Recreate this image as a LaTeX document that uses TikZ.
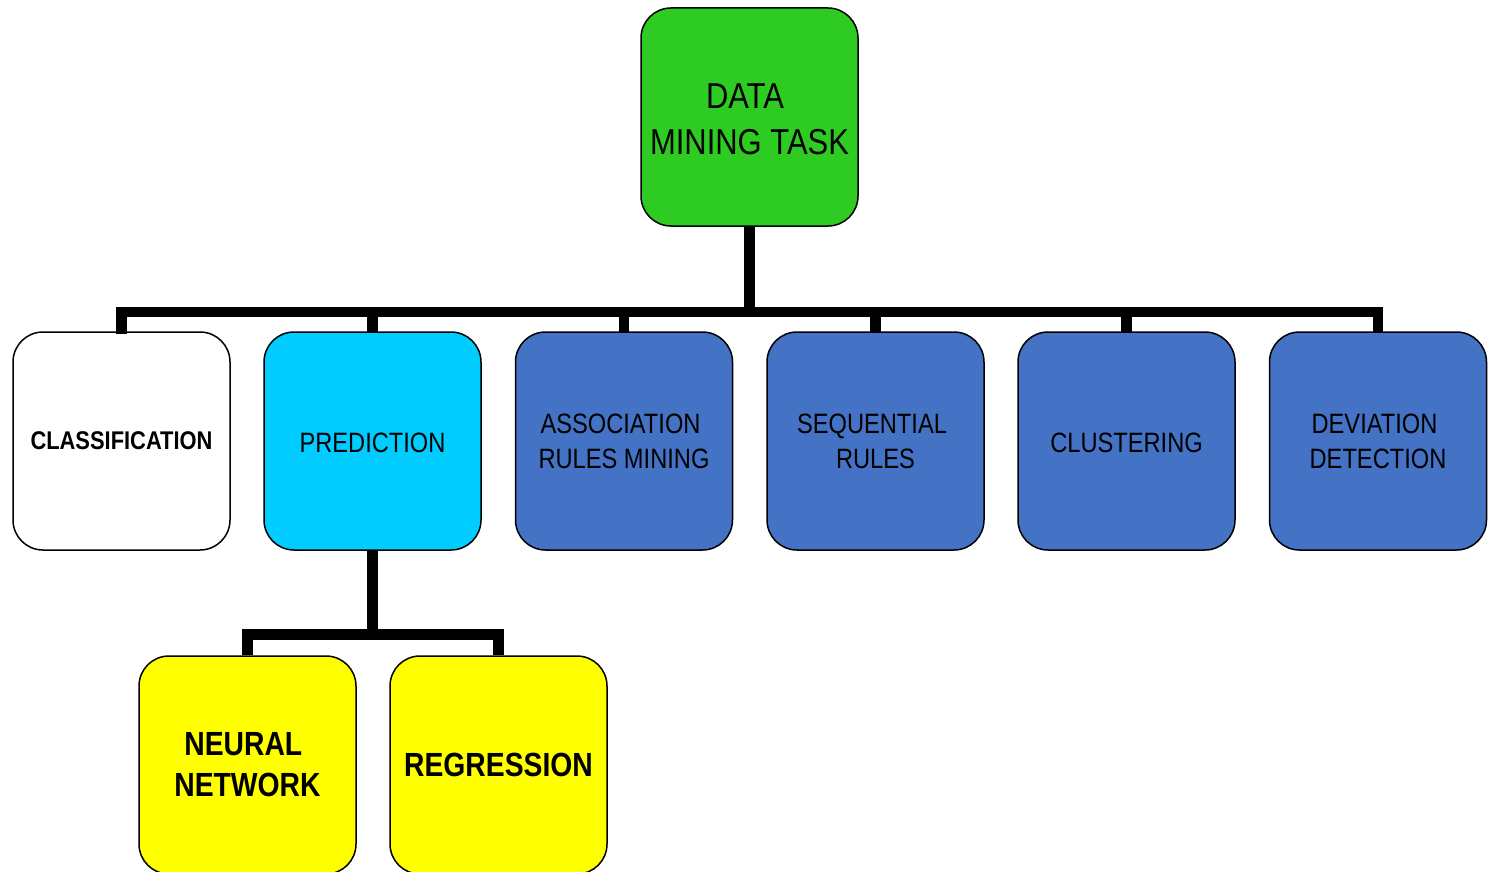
\documentclass[tikz,border=0pt]{standalone}
\usepackage{fontspec}
\setmainfont{Liberation Sans}
\newfontfamily\rootfont[FakeStretch=0.86]{Liberation Sans}
\newfontfamily\rowfont[FakeStretch=0.845]{Liberation Sans}
\newfontfamily\clsfont[FakeStretch=0.855]{Liberation Sans}
\newfontfamily\leaffont[FakeStretch=0.845]{Liberation Sans}
% first lines carry a trailing word space, which pushes them slightly left
\newcommand\trailsp{\hspace*{0.25em}}
\definecolor{rootgreen}{RGB}{46,204,34}
\definecolor{predcyan}{RGB}{0,204,255}
\definecolor{taskblue}{RGB}{68,114,196}
\definecolor{leafyellow}{RGB}{255,255,0}
\tikzset{
  box/.style={draw=black, line width=1.5pt, rounded corners=30pt,
    minimum width=217pt, minimum height=218pt, inner sep=0pt,
    align=center, text=black},
  rowbox/.style={box, font=\rowfont\fontsize{28}{35}\selectfont},
  oneline/.style={text height=23pt, text depth=0pt},
  leafbox/.style={box, fill=leafyellow,
    font=\leaffont\bfseries\fontsize{33.5}{41}\selectfont},
  conn/.style={draw=black, line width=10.5pt, line join=miter, line cap=butt},
}
\begin{document}
\begin{tikzpicture}[x=1pt, y=-1pt]
\useasboundingbox (0,0) rectangle (1494,872);
\clip (0,0) rectangle (1494,872);

% top level task
\node[box, fill=rootgreen] (root) at (749.5,117) {};
\node[align=center, inner sep=0pt, font=\rootfont\fontsize{36}{46}\selectfont]
  (roottext) at ([yshift=-2pt]root.center) {DATA\trailsp\\MINING TASK};

% second level
\node[box, fill=white, font=\clsfont\bfseries\fontsize{25.6}{35}\selectfont]
  (cls) at (121.5,441) {CLASSIFICATION};
\node[rowbox, oneline, fill=predcyan] (pre) at (372.5,441) {PREDICTION};
\node[rowbox, fill=taskblue] (asr) at (624,441) {ASSOCIATION\trailsp\\RULES MINING};
\node[rowbox, fill=taskblue] (seq) at (875.5,441) {SEQUENTIAL\trailsp\\RULES};
\node[rowbox, oneline, fill=taskblue] (clu) at (1126.5,441) {CLUSTERING};
\node[rowbox, fill=taskblue] (dev) at (1378,441) {DEVIATION\trailsp\\DETECTION};

% third level under prediction
\node[leafbox] (nn) at (247.5,765) {NEURAL\trailsp\\NETWORK};
\node[leafbox] (reg) at (498.5,765) {REGRESSION};

% bus lines
\coordinate (bus) at (0,312);
\coordinate (sub) at (0,634.5);

\draw[conn] ([yshift=-3pt]cls.north) -- (cls.north |- bus)
  -- (dev.north |- bus) -- ([yshift=-1pt]dev.north);
\draw[conn] (root.south) -- (root.south |- bus);
\draw[conn] ([yshift=-1pt]pre.north) -- (pre.north |- bus);
\draw[conn] ([yshift=-1pt]asr.north) -- (asr.north |- bus);
\draw[conn] ([yshift=-1pt]seq.north) -- (seq.north |- bus);
\draw[conn] ([yshift=-1pt]clu.north) -- (clu.north |- bus);

\draw[conn] (pre.south) -- (pre.south |- sub);
\draw[conn] (nn.north) -- (nn.north |- sub) -- (reg.north |- sub) -- (reg.north);
\end{tikzpicture}
\end{document}
